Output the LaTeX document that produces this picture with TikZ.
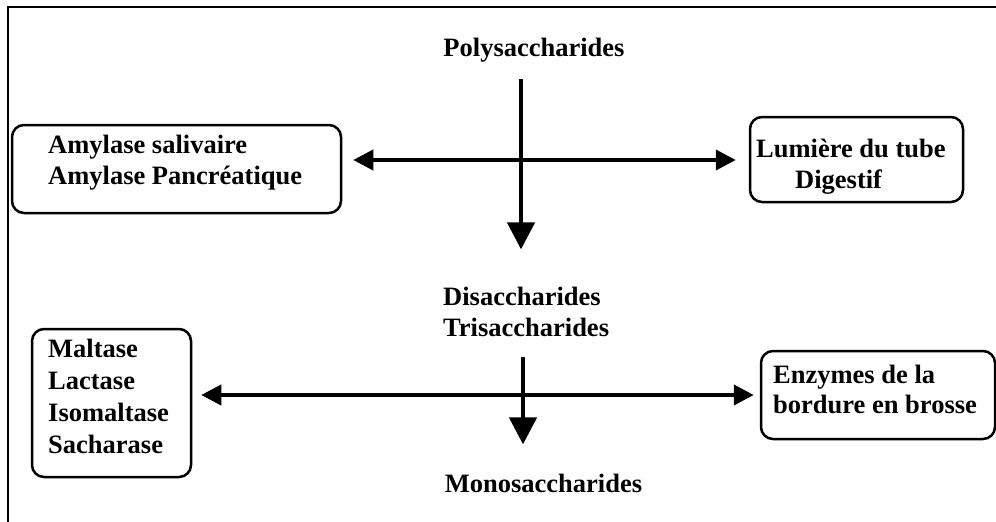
\documentclass[tikz,border=0pt]{standalone}
\usepackage{fontspec}
\setmainfont{Liberation Serif}
\usetikzlibrary{arrows.meta}

\tikzset{
  txt/.style={inner sep=0pt, font=\bfseries\fontsize{26.5}{31}\selectfont, align=left},
  enzbox/.style={draw, line width=2.5pt, rounded corners=12pt, inner sep=0pt},
  flowarrow/.style={line width=4.5pt, -{Triangle[length=27pt,width=27pt]}},
  sitearrow/.style={line width=4pt,
    {Triangle[length=20pt,width=20pt]}-{Triangle[length=20pt,width=20pt]}},
  frameline/.style={line width=1.5pt}
}

\begin{document}
\begin{tikzpicture}[x=1pt,y=-1pt]
\useasboundingbox (0,0) rectangle (996,522);

% outer frame
\draw[frameline] (8,522) -- (8,7) -- (996,7);

% carbohydrate stages (base anchor = baseline of the last line)
\node[txt, anchor=base] (poly) at (534,56) {Polysaccharides};
\node[txt, anchor=base west] (di) at (443,336) {Disaccharides\\Trisaccharides};
\node[txt, anchor=base] (mono) at (543.5,492) {Monosaccharides};

% enzyme and site boxes
\node[enzbox, minimum width=329pt, minimum height=88pt] (amyB) at (176.5,169) {};
\node[txt, anchor=base west] (amyT) at (48,184) {Amylase salivaire\\Amylase Pancréatique};

\node[enzbox, minimum width=213pt, minimum height=85pt] (lumB) at (856.5,159.5) {};
\node[txt, anchor=base west] (lumT) at (756,188) {Lumière du tube\\\hspace*{39pt}Digestif};

\node[enzbox, minimum width=159pt, minimum height=148pt] (malB) at (111.5,403) {};
\node[txt, anchor=base west, font=\bfseries\fontsize{26.5}{32}\selectfont] (malT) at (48,453)
  {Maltase\\Lactase\\Isomaltase\\Sacharase};

\node[enzbox, minimum width=234pt, minimum height=88pt] (enzB) at (878,395) {};
\node[txt, anchor=base west, font=\bfseries\fontsize{26.5}{30}\selectfont] (enzT) at (773,413)
  {Enzymes de la\\bordure en brosse};

% reference lines for the connectors
\coordinate (v1) at (521,0);
\coordinate (v2) at (523,0);
\coordinate (h1) at (0,160);
\coordinate (h2) at (0,395);

% digestion steps
\draw[flowarrow, shorten <=16.6pt, shorten >=37pt] (poly.south -| v1) -- (di.north -| v1);
\draw[flowarrow, shorten <=21pt, shorten >=29pt] (di.south -| v2) -- (mono.north -| v2);

% sites of action
\draw[sitearrow, shorten <=11pt, shorten >=13pt] (amyB.east |- h1) -- (lumB.west |- h1);
\draw[sitearrow, shorten <=9pt, shorten >=6pt] (malB.east |- h2) -- (enzB.west |- h2);
\end{tikzpicture}
\end{document}
